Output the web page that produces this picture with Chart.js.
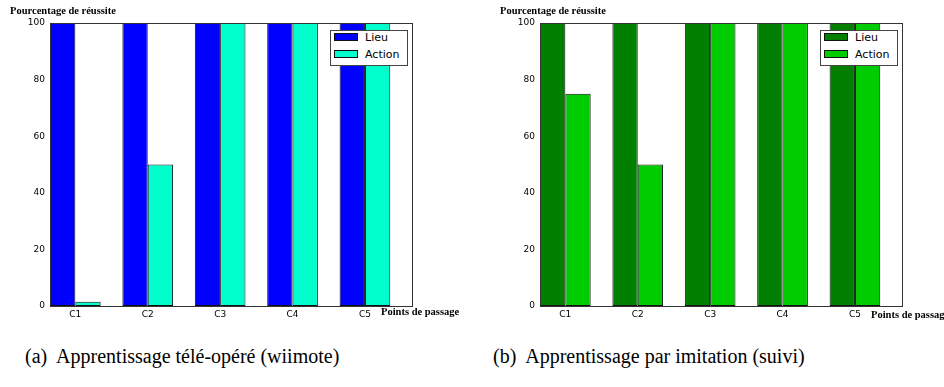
<!DOCTYPE html>
<html><head><meta charset="utf-8">
<script src="https://cdn.jsdelivr.net/npm/chart.js@4/dist/chart.umd.min.js"></script>
<style>
html,body{margin:0;padding:0;background:#fff;}
#wrap{position:relative;width:944px;height:387px;overflow:hidden;background:#fff;}
canvas{position:absolute;top:0;}
.ttl{position:absolute;font-family:"Liberation Serif",serif;font-weight:bold;font-size:10.5px;line-height:10px;white-space:nowrap;color:#000;}
.legend{position:absolute;box-sizing:border-box;width:78px;height:36px;border:1px solid #444;background:#fff;padding:0 0 0 3px;font-family:"DejaVu Sans",sans-serif;font-size:11px;color:#000;}
.legend .row{height:14px;line-height:14px;margin-bottom:3px;white-space:nowrap;}
.legend .sw{display:inline-block;box-sizing:border-box;width:24px;height:8px;border:1px solid #111;vertical-align:middle;margin-right:7px;position:relative;top:-1px;}
.legend .row span.t{vertical-align:middle;}
.cap{position:absolute;font-family:"Liberation Serif",serif;font-size:20px;line-height:20px;white-space:nowrap;color:#000;}
</style>
</head><body>
<div id="wrap">
  <canvas id="cA" width="472" height="330" style="left:0px"></canvas>
  <canvas id="cB" width="472" height="330" style="left:472px"></canvas>
</div>
<script>
// ---- data ----
const categories = ['C1', 'C2', 'C3', 'C4', 'C5'];
const seriesNames = ['Lieu', 'Action'];
const lieuTeleop = [100, 100, 100, 100, 100];
const actionTeleop = [1.5, 50, 100, 100, 100];
const lieuImitation = [100, 100, 100, 100, 100];
const actionImitation = [75, 50, 100, 100, 100];
const yTickValues = [0, 20, 40, 60, 80, 100];
const yTitle = 'Pourcentage de réussite';
const xTitle = 'Points de passage';
const captionA = '(a)\u00a0 Apprentissage télé-opéré (wiimote)';
const captionB = '(b)\u00a0 Apprentissage par imitation (suivi)';

const wrap = document.getElementById('wrap');

const framePlugin = {
  id: 'frame',
  afterDatasetsDraw(chart) {
    const a = chart.chartArea, c = chart.ctx;
    c.save();
    c.strokeStyle = '#333';
    c.lineWidth = 1;
    c.strokeRect(Math.round(a.left) + 0.5, Math.round(a.top) + 0.5, Math.round(a.right - a.left), Math.round(a.bottom - a.top));
    c.restore();
  }
};

function addDiv(cls, text, left, top) {
  const d = document.createElement('div');
  d.className = cls;
  d.textContent = text;
  d.style.left = left + 'px';
  d.style.top = top + 'px';
  wrap.appendChild(d);
  return d;
}

function makeChart(id, offsetX, lieu, action, colors, padL, padR, xTitleTop) {
  const chart = new Chart(document.getElementById(id), {
    type: 'bar',
    data: {
      datasets: [
        { label: seriesNames[0], data: lieu.map((v, i) => ({ x: i + 0.35, y: v })),
          backgroundColor: colors[0], borderColor: '#111', borderWidth: 1, borderSkipped: false,
          categoryPercentage: 0.7, barPercentage: 1 },
        { label: seriesNames[1], data: action.map((v, i) => ({ x: i + 0.35, y: v })),
          backgroundColor: colors[1], borderColor: '#111', borderWidth: 1, borderSkipped: false,
          categoryPercentage: 0.7, barPercentage: 1 }
      ]
    },
    options: {
      responsive: false, animation: false, devicePixelRatio: 1,
      layout: { padding: { left: padL, right: padR, top: 23, bottom: 6 } },
      plugins: { legend: { display: false }, tooltip: { enabled: false } },
      scales: {
        x: {
          type: 'linear', min: 0, max: categories.length, offset: false,
          grid: { display: false, drawTicks: false, offset: false }, border: { display: false },
          afterBuildTicks: s => { s.ticks = categories.map((c, i) => ({ value: i + 0.35 })); },
          afterFit: s => { s.height = 18; },
          ticks: { autoSkip: false, maxRotation: 0, padding: 3, color: '#000',
            font: { family: 'DejaVu Sans', size: 9 },
            callback: (v, i) => categories[i] }
        },
        y: {
          min: 0, max: 100,
          grid: { display: false, drawTicks: false }, border: { display: false },
          afterBuildTicks: s => { s.ticks = yTickValues.map(v => ({ value: v })); },
          afterFit: s => { s.width = 40; },
          ticks: { padding: 5, color: '#000', font: { family: 'DejaVu Sans', size: 9 } }
        }
      }
    },
    plugins: [framePlugin]
  });
  const a = chart.chartArea;
  addDiv('ttl', yTitle, offsetX + padL, 6);
  addDiv('ttl', xTitle, offsetX + a.right - 31, xTitleTop);
  // legend
  const lg = document.createElement('div');
  lg.className = 'legend';
  lg.style.left = (offsetX + a.right - 4 - 78) + 'px';
  lg.style.top = (a.top + 7) + 'px';
  chart.data.datasets.forEach(ds => {
    const r = document.createElement('div');
    r.className = 'row';
    const sw = document.createElement('span');
    sw.className = 'sw';
    sw.style.background = ds.backgroundColor;
    const t = document.createElement('span');
    t.className = 't';
    t.textContent = ds.label;
    r.appendChild(sw); r.appendChild(t);
    lg.appendChild(r);
  });
  wrap.appendChild(lg);
  return chart;
}

makeChart('cA', 0, lieuTeleop, actionTeleop, ['#0000ff', '#00ffcc'], 10, 60, 307);
makeChart('cB', 472, lieuImitation, actionImitation, ['#007f00', '#00cc00'], 28, 42, 310);
addDiv('cap', captionA, 25, 346);
addDiv('cap', captionB, 493, 346);
</script>
</body></html>
